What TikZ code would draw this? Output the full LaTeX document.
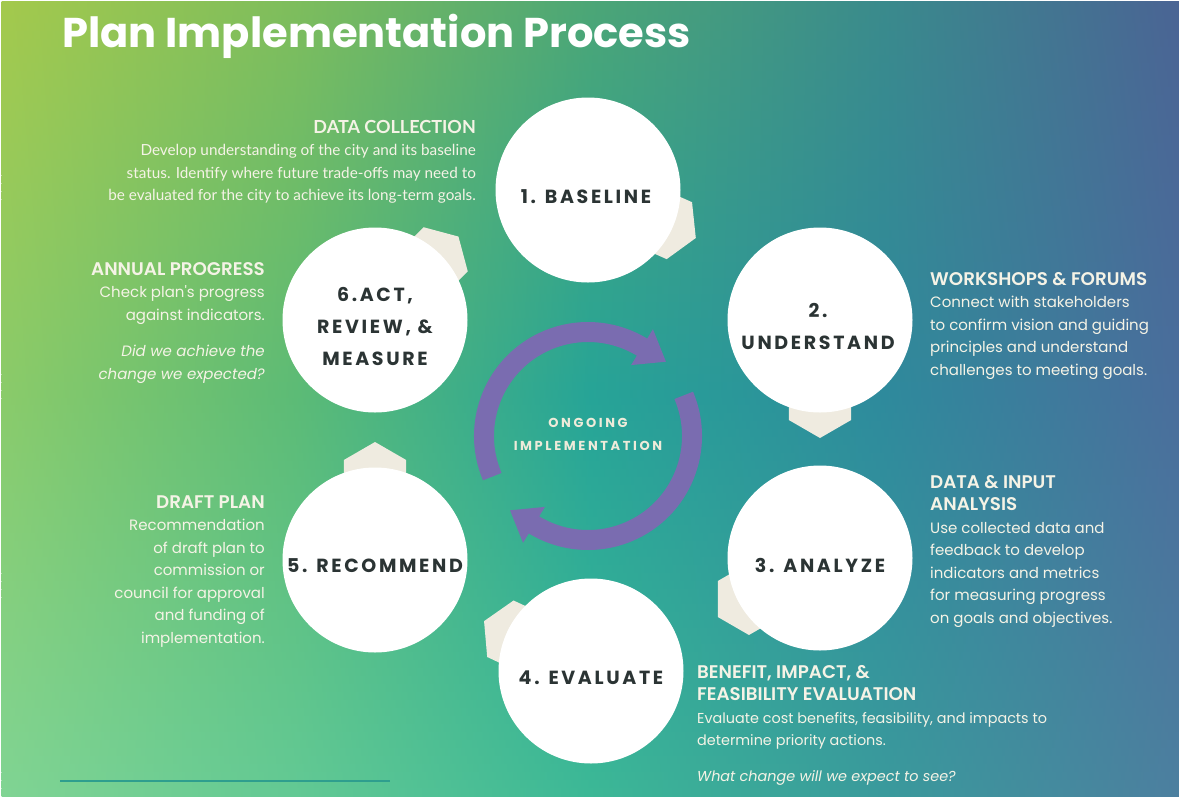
\documentclass[tikz,border=0pt]{standalone}
\usepackage{fontspec}
\setmainfont{Lato}
\newfontfamily\titlefont{Poppins}
\newfontfamily\bodyfont{Poppins}
\newfontfamily\headfont{Poppins SemiBold}
\newfontfamily\stepfont{Poppins}[LetterSpace=14]
\newfontfamily\hubfont{Poppins}[LetterSpace=20]
\usetikzlibrary{calc}

% background control colours: rows top / middle / bottom, five columns each
\definecolor{g00}{HTML}{A4C94C}\definecolor{g01}{HTML}{7EBD5C}\definecolor{g02}{HTML}{4CA676}\definecolor{g03}{HTML}{3A8A8C}\definecolor{g04}{HTML}{4A6494}
\definecolor{g10}{HTML}{8ACB6A}\definecolor{g11}{HTML}{5CBB76}\definecolor{g12}{HTML}{26A497}\definecolor{g13}{HTML}{2E8A9C}\definecolor{g14}{HTML}{4A6E9C}
\definecolor{g20}{HTML}{80D493}\definecolor{g21}{HTML}{62C994}\definecolor{g22}{HTML}{3CB896}\definecolor{g23}{HTML}{3A9A9C}\definecolor{g24}{HTML}{4C7F9F}

\definecolor{textcream}{HTML}{F5F3E6}
\definecolor{labeldark}{HTML}{2B3434}
\definecolor{tabcream}{HTML}{EFEBE0}
\definecolor{hubpurple}{RGB}{122,108,176}
\definecolor{hubtextcol}{HTML}{EEEBDA}
\definecolor{rulecol}{HTML}{2E9E8E}

% mix one background strip from two control rows (#3 = percent of the upper row)
\newcommand\bgmix[3]{%
  \colorlet{sA}{g#10!#3!g#20}\colorlet{sB}{g#11!#3!g#21}%
  \colorlet{sC}{g#12!#3!g#22}\colorlet{sD}{g#13!#3!g#23}%
  \colorlet{sE}{g#14!#3!g#24}}

% cream hexagonal tab peeking out from behind a step disc
\newcommand\steptab[2]{%
  \begin{scope}[shift={(#1)}, x=1pt, y=1pt, rotate=#2]
    \fill[tabcream] (82,0) +(0:36) -- +(60:36) -- +(120:36) -- +(180:36) -- +(240:36) -- +(300:36) -- cycle;
  \end{scope}}

\tikzset{
  x=1pt, y=-1pt,
  stepdisc/.style={circle, fill=white, minimum size=185pt, inner sep=0pt},
  steplabel/.style={text=labeldark, font=\stepfont\bfseries\fontsize{19}{32}\selectfont, align=center, inner sep=0pt},
  hubtext/.style={text=hubtextcol, font=\hubfont\bfseries\fontsize{13}{23}\selectfont, align=center, inner sep=0pt},
  blurb/.style={text=textcream, font=\bodyfont\fontsize{15}{22.5}\selectfont, inner sep=0pt},
  blurbsmall/.style={text=textcream, font=\bodyfont\fontsize{14.4}{22.5}\selectfont, inner sep=0pt},
  blurblato/.style={text=textcream, font=\fontsize{15.3}{22.5}\selectfont, inner sep=0pt},
  hubarrow/.style={draw=hubpurple, line width=20pt},
}
\newcommand\hd[1]{{\headfont\fontsize{18.3}{22.5}\selectfont #1}}
\newcommand\hdlato[1]{{\fontsize{18}{22.5}\selectfont\bfseries #1}}

\begin{document}
\begin{tikzpicture}
\useasboundingbox (0,0) rectangle (1179,796);
\fill[white] (0,0) rectangle (1179,796);

% background gradient, built from thin horizontal shaded strips
\begin{scope}
\clip (1.5,1.5) rectangle (1179,796);
\foreach \k in {0,...,99}{
  \pgfmathsetmacro{\ytop}{\k*7.96}
  \pgfmathsetmacro{\ymid}{\ytop+3.98}
  \ifdim\ymid pt<400pt
    \pgfmathtruncatemacro{\p}{(400-\ymid)/4}
    \bgmix{0}{1}{\p}
  \else
    \pgfmathtruncatemacro{\p}{(796-\ymid)/3.96}
    \bgmix{1}{2}{\p}
  \fi
  \pgfdeclarehorizontalshading{bgs\k}{100bp}{color(0bp)=(sA); color(25bp)=(sA); color(37.5bp)=(sB); color(50bp)=(sC); color(62.5bp)=(sD); color(75bp)=(sE); color(100bp)=(sE)}
  \shade[shading=bgs\k] (0,\ytop) rectangle (1179,\ytop+8.8);
}
\end{scope}

% title
\node[text=white, font=\titlefont\bfseries\fontsize{41.6}{50}\selectfont, anchor=base west, inner sep=0pt] (title) at (62,47) {Plan Implementation Process};

% centres of the six steps
\coordinate (c1) at (588,190);
\coordinate (c2) at (820,320);
\coordinate (c3) at (820,558);
\coordinate (c4) at (591,671);
\coordinate (c5) at (375,560);
\coordinate (c6) at (375,320);

% tabs pointing to the following step
\steptab{c1}{-24}
\steptab{c2}{-90}
\steptab{c3}{210}
\steptab{c4}{155}
\steptab{c5}{90}
\steptab{c6}{45}

% step discs
\node[stepdisc] (s1) at (c1) {};
\node[stepdisc] (s2) at (c2) {};
\node[stepdisc] (s3) at (c3) {};
\node[stepdisc] (s4) at (c4) {};
\node[stepdisc] (s5) at (c5) {};
\node[stepdisc] (s6) at (c6) {};

\node[steplabel] (l1) at (586,197) {1. BASELINE};
\node[steplabel] (l2) at (818,326) {2.\\UNDERSTAND};
\node[steplabel] (l3) at (820,565) {3. ANALYZE};
\node[steplabel] (l4) at (591,678) {4. EVALUATE};
\node[steplabel] (l5) at (375,566) {5. RECOMMEND};
\node[steplabel] (l6) at (375,326) {6.ACT,\\REVIEW, \&\\MEASURE};

% ongoing implementation cycle
\node[hubtext] (hub) at (588,434) {ONGOING\\IMPLEMENTATION};
\begin{scope}[shift={(588,436)}, x=1pt, y=1pt]
  \draw[hubarrow] (203:104) arc[start angle=203, end angle=58, radius=104];
  \fill[hubpurple] (58.7:83) -- (58.7:125) -- ($(58.7:104)+(-31.3:28)$) -- cycle;
  \draw[hubarrow] (23:104) arc[start angle=23, end angle=-122, radius=104];
  \fill[hubpurple] (238.7:83) -- (238.7:125) -- ($(238.7:104)+(148.7:28)$) -- cycle;
\end{scope}

% descriptions
\node[blurblato, align=right, anchor=north east] (t1) at (476,120)
  {\hdlato{DATA COLLECTION}\\
   Develop understanding of the city and its baseline\\
   status. Identify where future trade-offs may need to\\
   be evaluated for the city to achieve its long-term goals.};
\node[blurb, align=right, anchor=north east] (t6) at (265,262)
  {\hd{ANNUAL PROGRESS}\\
   Check plan's progress\\
   against indicators.\\[14pt]
   \itshape Did we achieve the\\
   \itshape change we expected?};
\node[blurb, align=right, anchor=north east] (t5) at (265,495)
  {\hd{DRAFT PLAN}\\
   Recommendation\\
   of draft plan to\\
   commission or\\
   council for approval\\
   and funding of\\
   implementation.};
\node[blurb, align=left, anchor=north west] (t2) at (930,272)
  {\hd{WORKSHOPS \& FORUMS}\\
   Connect with stakeholders\\
   to confirm vision and guiding\\
   principles and understand\\
   challenges to meeting goals.};
\node[blurb, align=left, anchor=north west] (t3) at (930,475)
  {\hd{DATA \& INPUT}\\
   \hd{ANALYSIS}\\
   Use collected data and\\
   feedback to develop\\
   indicators and metrics\\
   for measuring progress\\
   on goals and objectives.};
\node[blurbsmall, align=left, anchor=north west] (t4) at (697,665)
  {\hd{BENEFIT, IMPACT, \&}\\
   \hd{FEASIBILITY EVALUATION}\\
   Evaluate cost benefits, feasibility, and impacts to\\
   determine priority actions.\\[13.5pt]
   \itshape What change will we expect to see?};

% footer rule
\coordinate (ruleL) at (60,781);
\coordinate (ruleR) at (390,781);
\draw[rulecol, line width=2pt] (ruleL) -- (ruleR);
\end{tikzpicture}
\end{document}
